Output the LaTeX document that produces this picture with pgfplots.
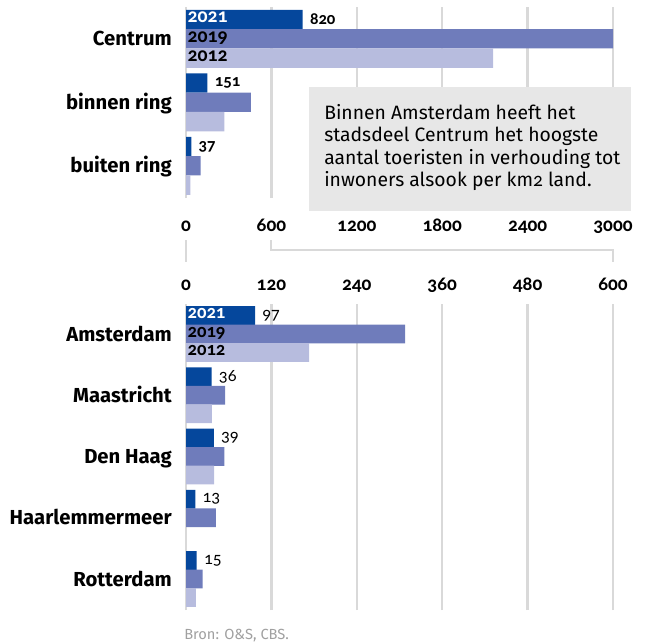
\documentclass[border=0pt]{standalone}
\usepackage{fontspec}
\setmainfont{Fira Sans}[Numbers=OldStyle]
\newfontfamily\numfont{Carlito}[Numbers=OldStyle]
\usepackage{pgfplots}
\pgfplotsset{compat=1.18}

\definecolor{c21}{HTML}{05479C}
\definecolor{c19}{HTML}{6F7CBB}
\definecolor{c12}{HTML}{B7BCDE}
\definecolor{gridgray}{HTML}{D9D9D9}
\definecolor{boxgray}{HTML}{E7E7E7}
\definecolor{srcgray}{HTML}{A0A0A0}

\newcommand\catfont{\fontsize{15.2}{17}\bfseries\selectfont}
\newcommand\tickfont{\numfont\fontsize{14.5}{16}\bfseries\selectfont}
\newcommand\yearfont{\numfont\fontsize{14.8}{15}\bfseries\selectfont}
\newcommand\yearfontb{\numfont\fontsize{14}{14}\bfseries\selectfont}
\newcommand\boxfont{\fontsize{14.5}{17}\selectfont}

\pgfkeys{/pgf/number format/assume math mode=true}

\pgfplotsset{
  panel/.style={
    scale only axis, width=320.25pt, xmin=0, clip=false,
    xbar, axis line style={draw=none}, major tick length=0pt,
    xmajorgrids, grid style={gridgray, line width=1.7pt},
    yticklabel style={font=\catfont, anchor=base east, inner sep=0pt,
      xshift=-10.5pt, yshift=-5.25pt},
    xticklabel style={font=\tickfont, anchor=base, inner sep=0pt},
  },
  s21/.style={fill=c21, draw=none, bar shift=0pt},
  s19/.style={fill=c19, draw=none, bar shift=0pt},
  s12/.style={fill=c12, draw=none, bar shift=0pt},
}
\tikzset{
  yr/.style={anchor=base west, inner sep=0pt, text height=1.2ex, text depth=0pt,
    xshift=1pt, yshift=-2.6pt},
}

\begin{document}
\begin{tikzpicture}
\path[use as bounding box] (0,0) rectangle (484.5pt,-482.25pt);

% stadsdelen
\begin{axis}[panel,
  at={(139.5pt,-5.25pt)}, anchor=north west, height=143.25pt,
  xmax=3000, ymin=-198, ymax=-7, bar width=14.5pt,
  xtick={0,600,1200,1800,2400,3000},
  xticklabels={0,600,1200,1800,2400,3000},
  xticklabel style={yshift=-25.3pt},
  ytick={-38.8,-102.3,-165.8},
  yticklabels={Centrum,binnen ring\hspace{3pt},buiten ring},
]
\addplot[s21, nodes near coords,
  every node near coord/.append style={font=\numfont\fontsize{12.5}{14}\bfseries\selectfont,
    black, xshift=2pt}]
  coordinates {(820,-19.5) (151,-83) (37,-146.5)};
\addplot[s19] coordinates {(3000,-38.8) (455,-102.3) (103,-165.8)};
\addplot[s12] coordinates {(2157,-58.1) (269,-121.6) (30,-185.1)};
\node[yr, font=\yearfont, text=white] at (axis cs:0,-19.5) {2021};
\node[yr, font=\yearfont] at (axis cs:0,-38.8) {2019};
\node[yr, font=\yearfont] at (axis cs:0,-58.1) {2012};
\end{axis}

% gemeenten
\begin{axis}[panel,
  at={(139.5pt,-228pt)}, anchor=north west, height=229.5pt,
  xmax=600, ymin=-610, ymax=-304, bar width=13.9pt,
  xtick={0,120,240,360,480,600},
  xticklabels={0,120,240,360,480,600},
  xticklabel pos=upper,
  xticklabel style={yshift=10.1pt},
  ytick={-334,-395.25,-456.5,-517.75,-579},
  yticklabels={Amsterdam,Maastricht\hspace{3pt},Den Haag,Haarlemmermeer,Rotterdam\hspace{3pt}},
]
\addplot[s21, nodes near coords,
  every node near coord/.append style={font=\numfont\fontsize{13}{14}\selectfont,
    black, xshift=2pt}]
  coordinates {(97,-315.5) (36,-376.75) (39,-438) (13,-499.25) (15,-560.5)};
\addplot[s19] coordinates {(308,-334) (55,-395.25) (54,-456.5) (42,-517.75) (23.5,-579)};
\addplot[s12] coordinates {(173,-352.5) (36.5,-413.75) (39.5,-475) (14,-597.5)};
\node[yr, font=\yearfontb, text=white] at (axis cs:0,-315.5) {2021};
\node[yr, font=\yearfontb] at (axis cs:0,-334) {2019};
\node[yr, font=\yearfontb] at (axis cs:0,-352.5) {2012};
\end{axis}

% schaalovergang
\draw[gridgray, line width=1.7pt] (203.25pt,-180pt) -- (203.25pt,-187.5pt)
  -- (459.75pt,-187.5pt) -- (459.75pt,-196.5pt);
\draw[gridgray, line width=1.7pt] (139.5pt,-180pt) -- (139.5pt,-196.5pt);

% tekstvak
\fill[boxgray] (231.75pt,-65.25pt) rectangle (473.25pt,-158.25pt);
\begin{scope}[every node/.style={anchor=base west, inner sep=0pt, font=\boxfont}]
\node at (243pt,-89.5pt) {Binnen Amsterdam heeft het};
\node at (243pt,-106.4pt) {stadsdeel Centrum het hoogste};
\node at (243pt,-123.3pt) {aantal toeristen in verhouding tot};
\node at (243pt,-140.2pt) {inwoners alsook per km{\numfont 2} land.};
\end{scope}

\node[anchor=base west, inner sep=0pt, font=\fontsize{11}{13}\selectfont, text=srcgray]
  at (138pt,-479.6pt) {Bron: O\&S, CBS.};
\end{tikzpicture}
\end{document}
